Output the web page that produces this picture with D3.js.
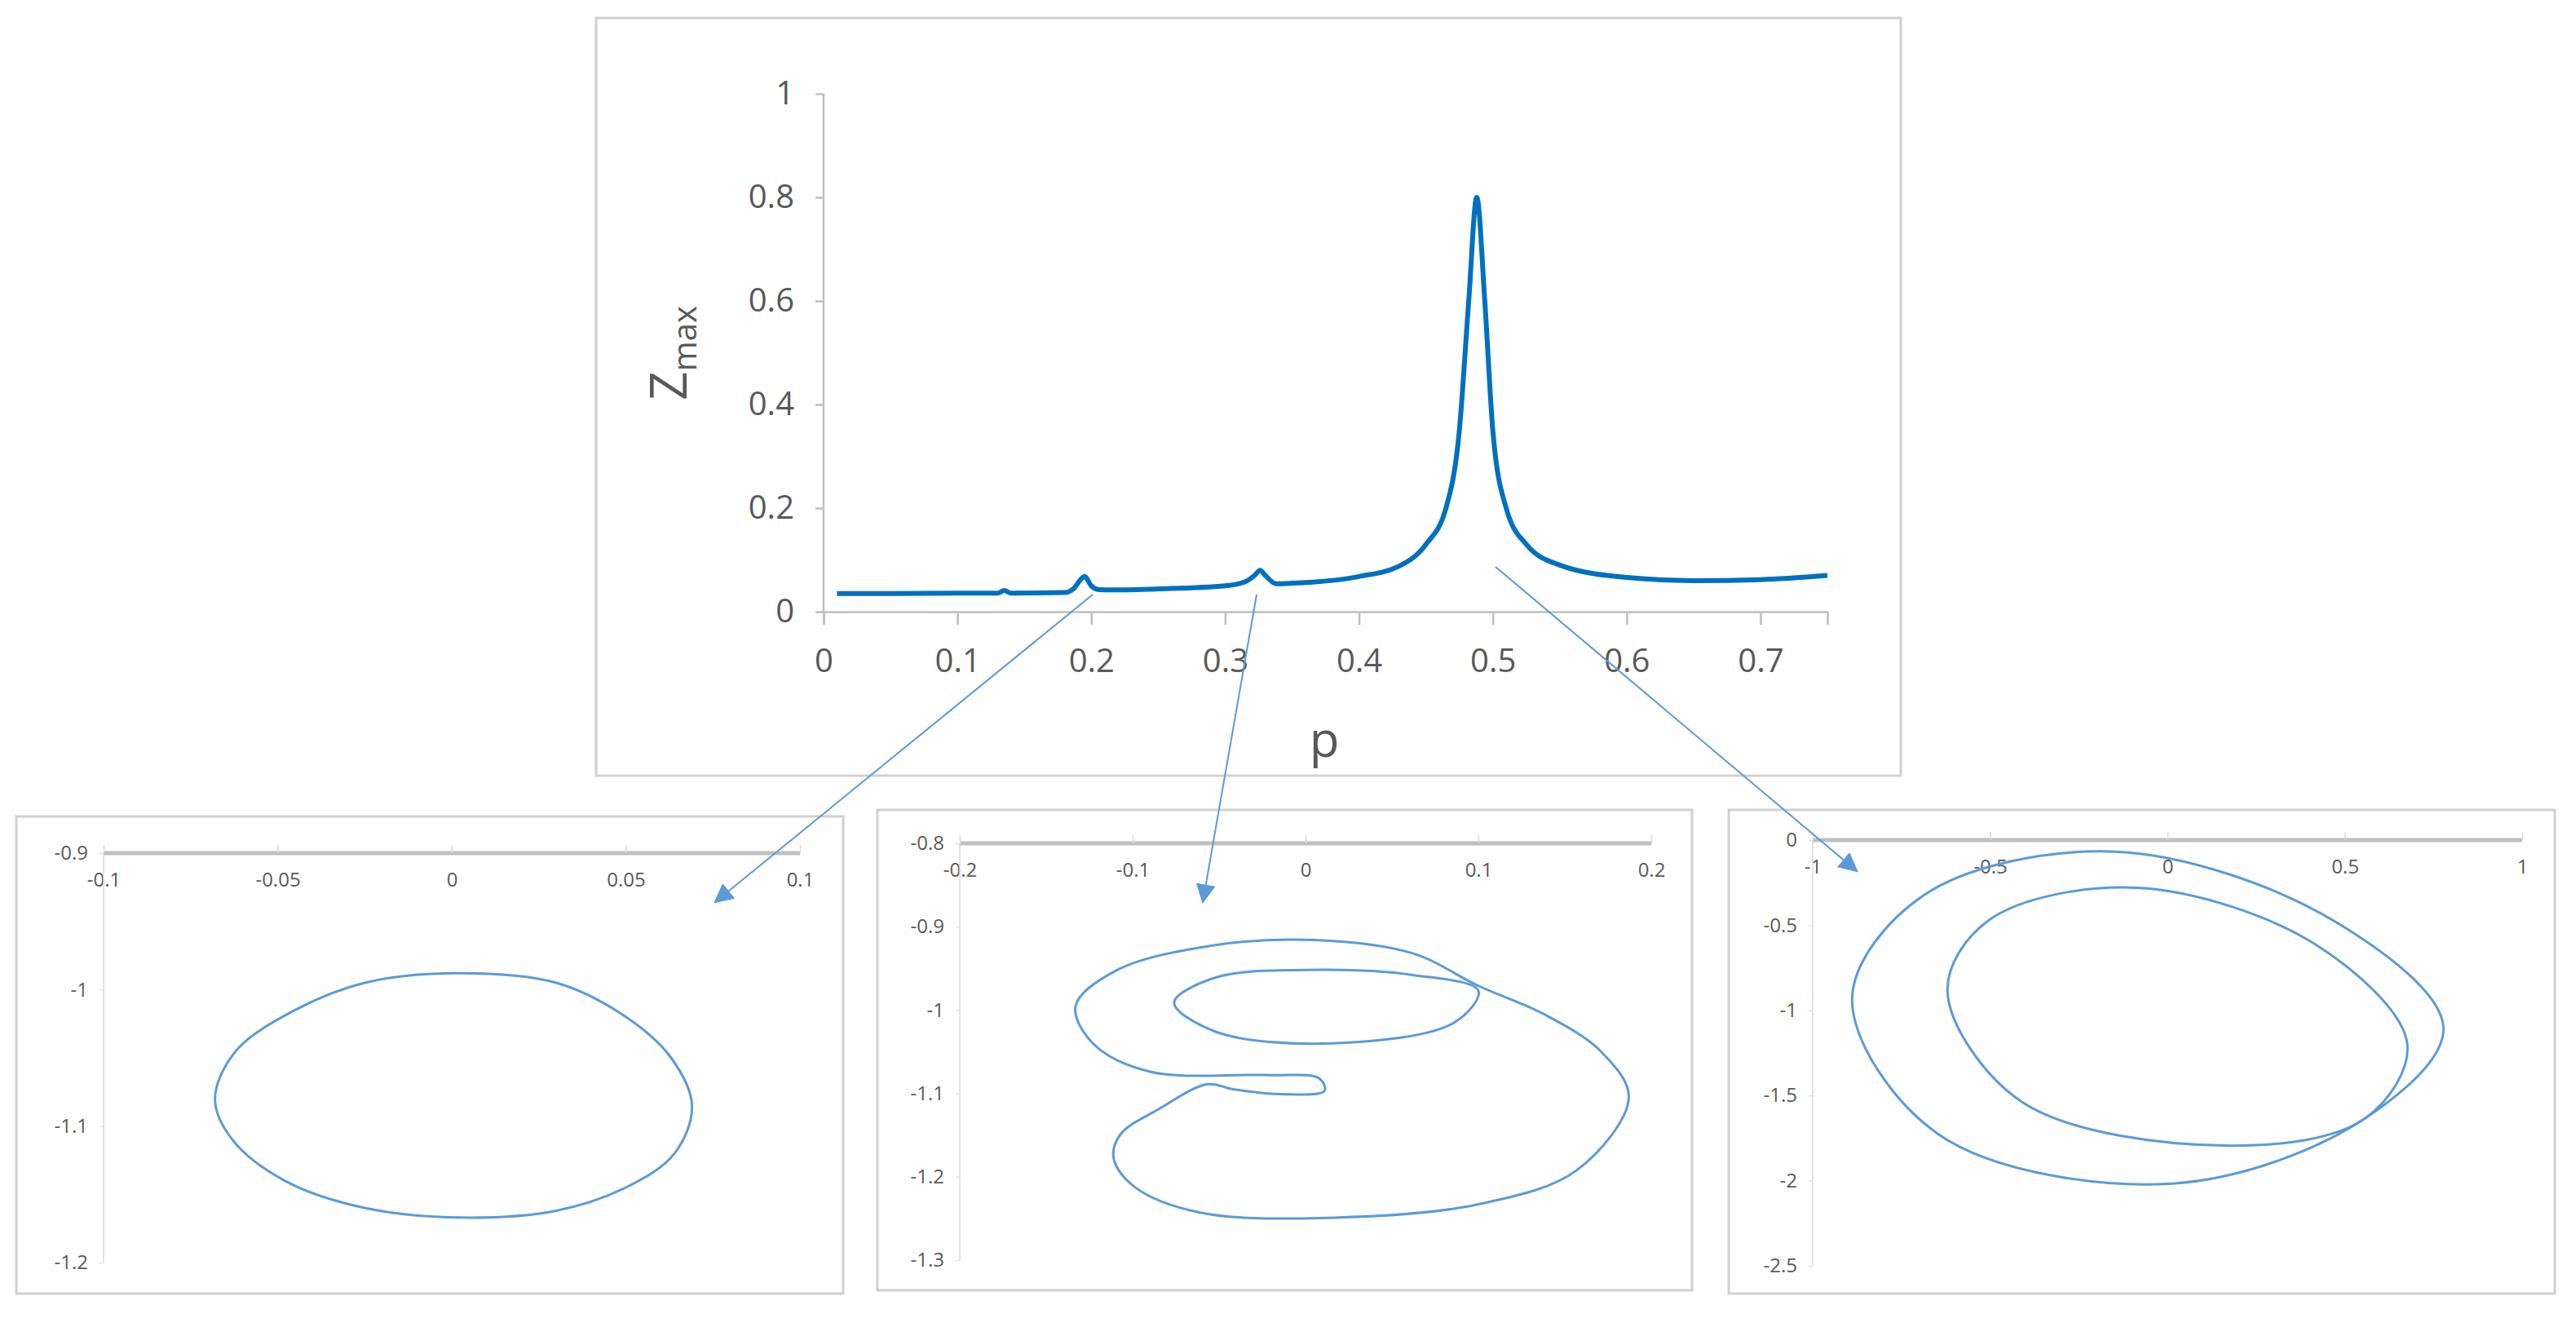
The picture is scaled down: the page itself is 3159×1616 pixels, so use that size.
<!DOCTYPE html><html><head><meta charset="utf-8"><script src="https://cdn.jsdelivr.net/npm/d3@7"></script>
<style>body{margin:0;background:#fff}text{font-family:"Open Sans",sans-serif}</style></head><body>
<svg id="c" width="3159" height="1616"></svg>
<script>
const pVals=[0.01,0.05,0.1,0.13,0.135,0.14,0.18,0.187,0.192,0.195,0.2,0.205,0.215,0.25,0.3,0.315,0.322,0.326,0.33,0.338,0.35,0.4,0.43,0.45,0.465,0.475,0.482,0.488,0.494,0.5,0.51,0.525,0.55,0.6,0.65,0.7,0.75];
const zVals=[0.035,0.035,0.036,0.036,0.041,0.036,0.037,0.045,0.062,0.068,0.05,0.043,0.042,0.044,0.05,0.058,0.07,0.08,0.07,0.054,0.055,0.068,0.088,0.13,0.2,0.35,0.6,0.8,0.6,0.35,0.2,0.13,0.09,0.066,0.06,0.062,0.07];
const xTicksTop=[0,0.1,0.2,0.3,0.4,0.5,0.6,0.7], yTicksTop=[0,0.2,0.4,0.6,0.8,1];
const loop1X=[0,0.03,0.05,0.063,0.069,0.064,0.05,0.03,0.002,-0.025,-0.048,-0.063,-0.068,-0.062,-0.045,-0.025];
const loop1Y=[-0.988,-0.995,-1.02,-1.05,-1.085,-1.12,-1.145,-1.162,-1.167,-1.16,-1.14,-1.11,-1.08,-1.045,-1.015,-0.995];
const loop2aX=[-0.0566,-0.085,-0.107,-0.111,-0.099,-0.061,0.017,0.100,0.157,0.187,0.171,0.138,0.100,0.062,0.005,-0.052,-0.109,-0.133,-0.123,-0.090,-0.023,0.008,0.011,-0.014,-0.042];
const loop2aY=[-1.089,-1.119,-1.149,-1.178,-1.212,-1.243,-1.249,-1.233,-1.192,-1.105,-1.050,-1.005,-0.971,-0.932,-0.916,-0.922,-0.952,-0.995,-1.040,-1.074,-1.078,-1.082,-1.097,-1.101,-1.095];
const loop2bX=[-0.076,-0.052,0.0,0.062,0.100,0.086,0.015,-0.052];
const loop2bY=[-0.991,-0.961,-0.952,-0.958,-0.977,-1.015,-1.040,-1.026];
const loop3aX=[-0.148,0.468,0.778,0.56,0.014,-0.644,-0.889,-0.69];
const loop3aY=[-0.068,-0.473,-1.10,-1.63,-2.017,-1.73,-0.936,-0.328];
const loop3bX=[-0.088,0.421,0.676,0.56,0.176,-0.412,-0.62,-0.505];
const loop3bY=[-0.28,-0.618,-1.197,-1.63,-1.795,-1.535,-0.888,-0.473];
const p1X=[-0.1,-0.05,0,0.05,0.1], p1Y=[-0.9,-1,-1.1,-1.2];
const p2X=[-0.2,-0.1,0,0.1,0.2], p2Y=[-0.8,-0.9,-1,-1.1,-1.2,-1.3];
const p3X=[-1,-0.5,0,0.5,1], p3Y=[0,-0.5,-1,-1.5,-2,-2.5];

const svg=d3.select('#c');
const grey='#595959', blue='#0070c0', lblue='#5b9bd5';
svg.append('rect').attr('x',731).attr('y',22).attr('width',1600).attr('height',929).attr('fill','none').attr('stroke','#d0d0d0').attr('stroke-width',3);
const x=d3.scaleLinear().domain([0,0.75]).range([1010,2241]);
const y=d3.scaleLinear().domain([0,1]).range([750,115]);
const ax=svg.append('g').attr('transform','translate(0,750)').call(d3.axisBottom(x).tickValues(xTicksTop).tickSize(16).tickPadding(30).tickFormat(d=>String(d)));
const ay=svg.append('g').attr('transform','translate(1010,0)').call(d3.axisLeft(y).tickValues(yTicksTop).tickSize(10).tickPadding(26).tickFormat(d=>String(d)));
[ax,ay].forEach(g=>{g.selectAll('path,line').attr('stroke','#bfbfbf').attr('stroke-width',2.5);g.selectAll('text').attr('fill',grey).attr('font-size',40).attr('font-family','Open Sans');});
ay.select('.domain').attr('d','M0,115V750');
svg.append('path').datum(pVals.map((p,i)=>[p,zVals[i]])).attr('fill','none').attr('stroke',blue).attr('stroke-width',6)
 .attr('d',d3.line().x(d=>x(d[0])).y(d=>y(d[1])).curve(d3.curveMonotoneX));
svg.append('text').attr('transform','translate(842,433) rotate(-90)').attr('text-anchor','middle').attr('fill',grey).attr('font-size',62)
 .html('Z<tspan font-size="40" dy="12">max</tspan>');
svg.append('text').attr('x',1624).attr('y',928).attr('text-anchor','middle').attr('fill',grey).attr('font-size',60).text('p');

function panel(bx,by,bw,bh,xd,xr,yd,yr,xt,yt,loops){
  svg.append('rect').attr('x',bx).attr('y',by).attr('width',bw).attr('height',bh).attr('fill','none').attr('stroke','#d0d0d0').attr('stroke-width',3);
  const sx=d3.scaleLinear().domain(xd).range(xr), sy=d3.scaleLinear().domain(yd).range(yr);
  const gx=svg.append('g').attr('transform',`translate(0,${yr[0]})`).call(d3.axisBottom(sx).tickValues(xt).tickSize(10).tickPadding(14).tickFormat(d=>String(d)));
  gx.select('.domain').attr('d',`M${xr[0]},0H${xr[1]}`).attr('stroke','#bfbfbf').attr('stroke-width',5);
  gx.selectAll('line').attr('stroke','#d9d9d9').attr('stroke-width',1.5).attr('y2',-10);
  const gy=svg.append('g').attr('transform',`translate(${xr[0]},0)`).call(d3.axisLeft(sy).tickValues(yt).tickSize(5).tickPadding(14).tickFormat(d=>String(d)));
  gy.select('.domain').attr('d',`M0,${yr[0]}V${yr[1]}`).attr('stroke','#d9d9d9').attr('stroke-width',1.5);
  gy.selectAll('line').attr('stroke','#d9d9d9');
  [gx,gy].forEach(g=>g.selectAll('text').attr('fill',grey).attr('font-size',24).attr('font-family','Open Sans'));
  loops.forEach(([lx,ly])=>svg.append('path').datum(lx.map((v,i)=>[v,ly[i]])).attr('fill','none').attr('stroke',lblue).attr('stroke-width',3)
    .attr('d',d3.line().x(d=>sx(d[0])).y(d=>sy(d[1])).curve(d3.curveCatmullRomClosed.alpha(0.5))));
}
panel(20,1001,1014,585,[-0.1,0.1],[127,981],[-0.9,-1.2],[1046,1548],p1X,p1Y,[[loop1X,loop1Y]]);
panel(1076,993,999,589,[-0.2,0.2],[1177,2025],[-0.8,-1.3],[1034,1545],p2X,p2Y,[[loop2aX,loop2aY],[loop2bX,loop2bY]]);
panel(2120,993,1013,593,[-1,1],[2223,3093],[0,-2.5],[1030,1552],p3X,p3Y,[[loop3aX,loop3aY],[loop3bX,loop3bY]]);

const defs=svg.append('defs');
defs.append('marker').attr('id','ah').attr('viewBox','0 0 10 10').attr('refX',9).attr('refY',5).attr('markerWidth',24).attr('markerHeight',24).attr('markerUnits','userSpaceOnUse').attr('orient','auto')
 .append('path').attr('d','M0,0L10,5L0,10z').attr('fill',lblue);
[[1340,729,877,1106],[1541,729,1475,1106],[1834,695,2277,1068]].forEach(a=>svg.append('line').attr('x1',a[0]).attr('y1',a[1]).attr('x2',a[2]).attr('y2',a[3]).attr('stroke',lblue).attr('stroke-width',2).attr('marker-end','url(#ah)'));
</script></body></html>
